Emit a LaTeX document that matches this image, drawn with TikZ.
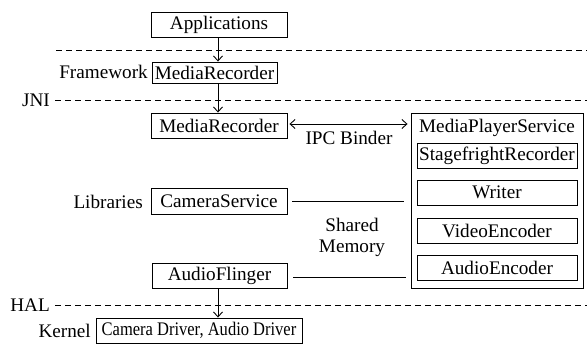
\documentclass[tikz,border=0pt]{standalone}
\usepackage{fontspec}
\setmainfont{Liberation Serif}
\newfontfamily\tnrfont{Liberation Serif}
\usetikzlibrary{arrows.meta}
\begin{document}
\begin{tikzpicture}[x=1pt,y=-1pt,
  every node/.style={font=\tnrfont\fontsize{19.2}{21}\selectfont, inner sep=0pt},
  box/.style={draw, line width=0.9pt, minimum height=25pt},
  lbl/.style={anchor=east},
  sep/.style={line width=0.8pt, dash pattern=on 6pt off 4pt},
  arr/.style={line width=0.9pt, -{Straight Barb[length=5pt,width=9pt]}},
  plain/.style={line width=0.9pt}]
\useasboundingbox (0,0) rectangle (587,345);
% layer separators
\coordinate (d1a) at (56,50); \coordinate (d1b) at (587,50);
\coordinate (d2a) at (55,100); \coordinate (d2b) at (587,100);
\coordinate (d3a) at (55,305); \coordinate (d3b) at (587,305);
\draw[sep] (d1a) -- (d1b);
\draw[sep] (d2a) -- (d2b);
\draw[sep] (d3a) -- (d3b);
% boxes
\node[box, minimum width=136pt] (app) at (219,24.5) {Applications};
\node[box, minimum width=125pt, minimum height=21pt] (fw) at (214.5,72.5) {MediaRecorder};
\node[box, minimum width=136pt] (nat) at (219,125.5) {MediaRecorder};
\node[box, minimum width=136pt, minimum height=26pt] (cam) at (219,201) {CameraService};
\node[box, minimum width=135pt] (af) at (219.5,275.5) {AudioFlinger};
\node[box, minimum width=206pt] (kern) at (199,330.5) {\scalebox{0.86}[1]{Camera Driver, Audio Driver}};
\node[draw, line width=0.9pt, minimum width=172pt, minimum height=175pt] (mps) at (497,200.5) {};
\node (mpst) at (497,128) {MediaPlayerService};
\node[box, minimum width=160pt] (sfr) at (497,155.5) {StagefrightRecorder};
\node[box, minimum width=160pt] (wr) at (497,192.5) {Writer};
\node[box, minimum width=160pt] (ve) at (497,230.5) {VideoEncoder};
\node[box, minimum width=160pt] (ae) at (497,267.5) {AudioEncoder};
% labels
\node[lbl] (lfw) at (148,72) {Framework};
\node[lbl] (ljni) at (50,100) {JNI};
\node[lbl] (llib) at (143,202) {Libraries};
\node[lbl] (lhal) at (50,305) {HAL};
\node[lbl] (lker) at (91,331) {Kernel};
\node (ipc) at (349,138) {IPC Binder};
\node[align=center] (shm) at (352,237) {Shared\\Memory};
% connectors
\draw[arr] (app.south -| 218,0) -- (fw.north -| 218,0);
\draw[arr] (fw.south -| 218,0) -- (nat.north -| 218,0);
\draw[arr] (af.south -| 218,0) -- (kern.north -| 218,0);
\draw[line width=0.9pt, {Straight Barb[length=5pt,width=9pt]}-{Straight Barb[length=5pt,width=9pt]}]
  ([xshift=2pt,yshift=1.5pt]nat.east) -- ([xshift=-3pt]mps.west |- 0,124);
\draw[plain] ([xshift=5pt]cam.east) -- ([xshift=-7pt]mps.west |- cam.east);
\draw[plain] ([xshift=6pt,yshift=-1.5pt]af.east) -- ([xshift=-5pt]mps.west |- 0,277);
\end{tikzpicture}
\end{document}
